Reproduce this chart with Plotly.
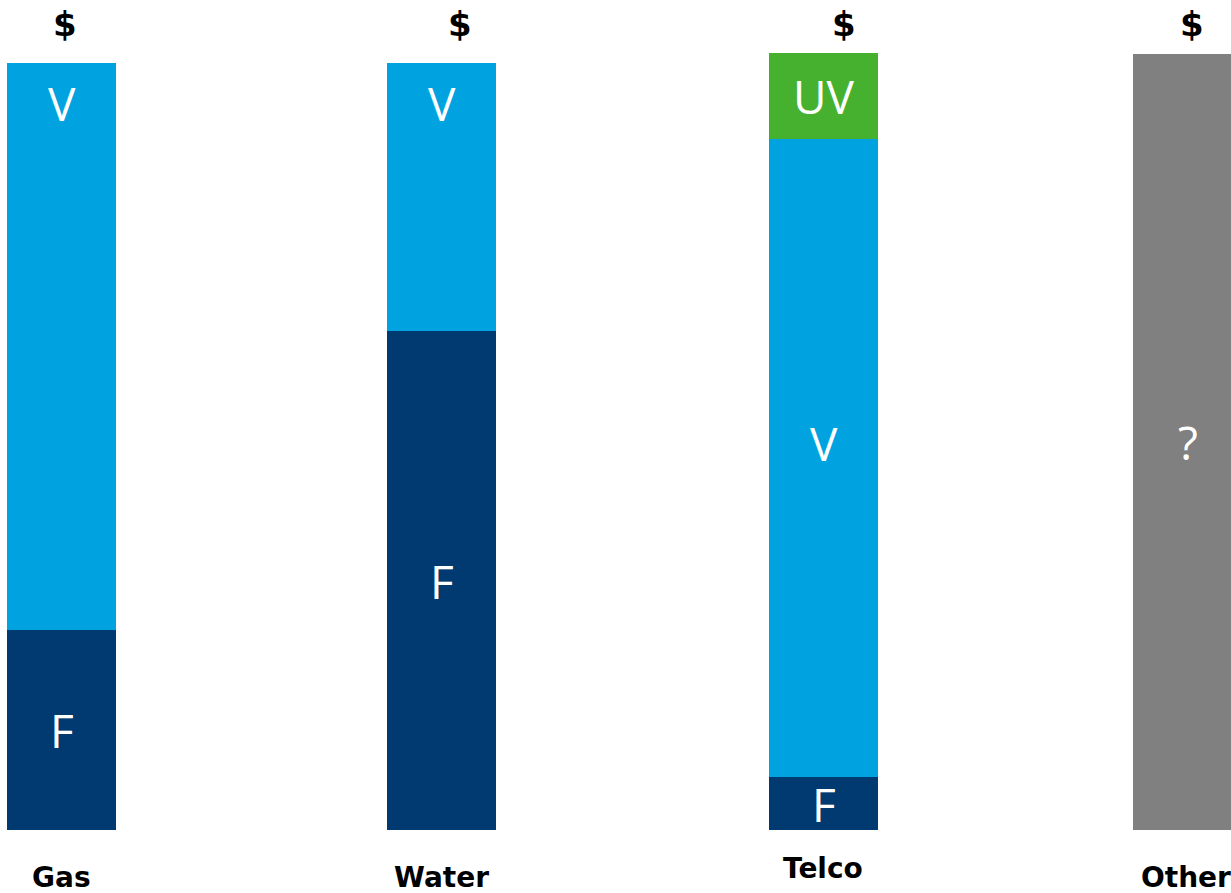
import plotly.graph_objects as go

# ---- data ----
categories = ["Gas", "Water", "Telco", "Other"]
fixed_vals = [200, 499, 53, None]      # "F"
variable_vals = [567, 268, 638, None]  # "V"
unverified_vals = [None, None, 86, None]  # "UV"
unknown_vals = [None, None, None, 776]    # "?"
top_label = "$"

# ---- layout constants (positions / styles) ----
bar_x = [61.5, 441.5, 823.5, 1187.5]
bar_w = 109
dollar_x = [65, 460, 844, 1192]
cat_label_y = [-47, -47, -38, -47]
cat_label_x = [61, 441, 823, 1186]

C_F = "#003A70"
C_V = "#00A3E0"
C_UV = "#46B12F"
C_Q = "#808080"

fig = go.Figure()
series = [("F", fixed_vals, C_F), ("V", variable_vals, C_V),
          ("UV", unverified_vals, C_UV), ("?", unknown_vals, C_Q)]
for name, vals, col in series:
    fig.add_trace(go.Bar(x=bar_x, y=vals, width=bar_w, name=name,
                         marker=dict(color=col, line=dict(width=0)),
                         hoverinfo="skip", showlegend=False))

annotations = []
inner_font = dict(family="Open Sans", size=46, color="white")
# segment labels computed from data
for i in range(len(categories)):
    base = 0
    for name, vals, col in series:
        v = vals[i]
        if v is None:
            continue
        if name == "V" and categories[i] in ("Gas", "Water"):
            ly = base + v - 40
        elif name == "V":
            ly = base + v / 2 + 15
        else:
            ly = base + v / 2
        annotations.append(dict(x=bar_x[i], y=ly, text=name, showarrow=False,
                                font=inner_font, xref="x", yref="y"))
        base += v

bold_font = dict(family="DejaVu Sans", size=28, color="black", weight="bold")
dollar_font = dict(family="DejaVu Sans", size=34, color="black", weight="bold")
for i, c in enumerate(categories):
    annotations.append(dict(x=dollar_x[i], y=806, text="<b>%s</b>" % top_label,
                            showarrow=False, font=dollar_font, xref="x", yref="y"))
    annotations.append(dict(x=cat_label_x[i], y=cat_label_y[i], text="<b>%s</b>" % c,
                            showarrow=False, font=bold_font, xref="x", yref="y"))

fig.update_layout(
    width=1231, height=893,
    margin=dict(l=0, r=0, t=0, b=0),
    paper_bgcolor="white", plot_bgcolor="white",
    barmode="stack", bargap=0,
    xaxis=dict(range=[0, 1231], visible=False, fixedrange=True),
    yaxis=dict(range=[-63, 830], visible=False, fixedrange=True),
    annotations=annotations,
)

fig.write_html("out.html")
